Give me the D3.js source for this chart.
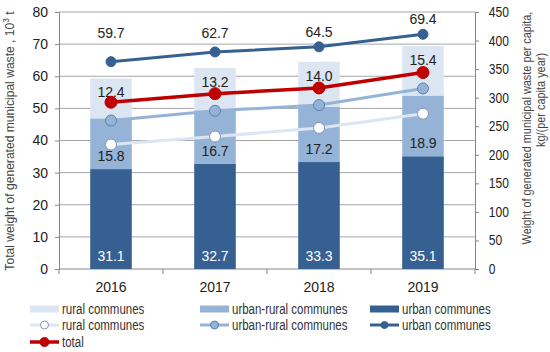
<!DOCTYPE html>
<html>
<head>
<meta charset="utf-8">
<script src="https://cdn.jsdelivr.net/npm/d3@7"></script>
<style>
  body { margin: 0; background: #fff; }
  svg text { font-family: "Liberation Sans", Arial, sans-serif; fill: #222; }
</style>
</head>
<body>
<svg></svg>
<script>
width = 550;
height = 352;

years = ['2016', '2017', '2018', '2019'];
// bars, 10^3 t
urbanT = [31.1, 32.7, 33.3, 35.1];
urbanRuralT = [15.8, 16.7, 17.2, 18.9];
ruralT = [12.4, 13.2, 14.0, 15.4];
totalT = [59.7, 62.7, 64.5, 69.4];
// lines, kg per capita
urbanPC = [363, 380, 389, 411];
urbanRuralPC = [260, 277, 287, 316];
ruralPC = [218, 232, 247, 272];
totalPC = [292, 307, 317, 344];
leftTicks = [0, 10, 20, 30, 40, 50, 60, 70, 80];
rightTicks = [0, 50, 100, 150, 200, 250, 300, 350, 400, 450];

cDark = '#376092';
cMid = '#95b3d7';
cLight = '#dce6f2';
cRed = '#c00000';
grid = '#a6a6a6';

svg = d3.select('svg')
  .attr('width', width)
  .attr('height', height);

x = d3.scaleBand().domain(years).range([59, 475]).paddingInner(0.6).paddingOuter(0.3);
yL = d3.scaleLinear().domain([0, 80]).range([269, 12]);
yR = d3.scaleLinear().domain([0, 450]).range([269, 12]);
cx = d => x(d) + x.bandwidth() / 2;

// gridlines
svg.append('g').selectAll('line')
  .data(leftTicks.slice(1))
  .enter().append('line')
  .attr('x1', 59).attr('x2', 475)
  .attr('y1', d => yL(d)).attr('y2', d => yL(d))
  .attr('stroke', grid).attr('stroke-width', 1);

// axes
axL = svg.append('g').attr('transform', 'translate(59,0)')
  .call(d3.axisLeft(yL).tickValues(leftTicks).tickSize(4).tickPadding(7));
axR = svg.append('g').attr('transform', 'translate(475,0)')
  .call(d3.axisRight(yR).tickValues(rightTicks).tickSize(4).tickPadding(12));
xStep = x.step();
axX = svg.append('g').attr('transform', 'translate(0,269)');
axX.append('line').attr('x1', 59).attr('x2', 475).attr('stroke', '#868686');
axX.selectAll('line.tk')
  .data(d3.range(5))
  .enter().append('line').attr('class', 'tk')
  .attr('x1', i => 59 + i * xStep).attr('x2', i => 59 + i * xStep)
  .attr('y1', 0).attr('y2', 5).attr('stroke', '#868686');
axX.selectAll('text')
  .data(years)
  .enter().append('text')
  .attr('x', d => cx(d)).attr('y', 23)
  .attr('text-anchor', 'middle')
  .style('font-size', '14px')
  .text(d => d);

[axL, axR].forEach(a => {
  a.select('.domain').attr('stroke', '#868686');
  a.selectAll('.tick line').attr('stroke', '#868686');
  a.selectAll('.tick text').style('font-size', '14px');
});
axR.selectAll('.tick text').attr('transform', 'scale(0.86,1)');

// stacked bars
stackData = years.map((y, i) => ({ year: y, urban: urbanT[i], urbanRural: urbanRuralT[i], rural: ruralT[i] }));
stack = d3.stack().keys(['urban', 'urbanRural', 'rural'])(stackData);
barColors = { urban: cDark, urbanRural: cMid, rural: cLight };
svg.append('g').selectAll('g')
  .data(stack)
  .enter().append('g')
  .attr('fill', s => barColors[s.key])
  .selectAll('rect')
  .data(s => s)
  .enter().append('rect')
  .attr('x', d => x(d.data.year))
  .attr('width', x.bandwidth())
  .attr('y', d => yL(d[1]))
  .attr('height', d => yL(d[0]) - yL(d[1]));

// segment labels
lbl = svg.append('g').style('font-size', '14px').attr('text-anchor', 'middle');
stack.forEach(s => {
  lbl.selectAll(null)
    .data(s)
    .enter().append('text')
    .attr('x', d => cx(d.data.year))
    .attr('y', d => s.key === 'rural' ? yL(d[1]) + 19 : yL(d[0]) - 8)
    .style('fill', s.key === 'urban' ? '#fff' : '#222')
    .text(d => d.data[s.key].toFixed(1));
});

// lines
lineSeries = [
  { vals: ruralPC, color: cLight, w: 3, r: 5.5, fill: '#fff', stroke: '#8497b0' },
  { vals: urbanRuralPC, color: cMid, w: 3, r: 5.5, fill: cMid, stroke: '#5b7fae' },
  { vals: urbanPC, color: cDark, w: 3, r: 5, fill: cDark, stroke: cDark },
  { vals: totalPC, color: cRed, w: 3.5, r: 6, fill: cRed, stroke: cRed }
];
line = d3.line().x((v, i) => cx(years[i])).y(v => yR(v));
lineSeries.forEach(s => {
  g = svg.append('g');
  g.append('path').attr('d', line(s.vals))
    .attr('fill', 'none').attr('stroke', s.color).attr('stroke-width', s.w);
  g.selectAll('circle')
    .data(s.vals)
    .enter().append('circle')
    .attr('cx', (v, i) => cx(years[i]))
    .attr('cy', v => yR(v))
    .attr('r', s.r)
    .attr('fill', s.fill).attr('stroke', s.stroke).attr('stroke-width', 1);
});

// total labels
svg.append('g').selectAll('text')
  .data(totalT)
  .enter().append('text')
  .attr('x', (v, i) => cx(years[i]))
  .attr('y', (v, i) => Math.min(33, yR(urbanPC[i]) - 15) + 5)
  .attr('text-anchor', 'middle')
  .style('font-size', '14px')
  .text(v => v.toFixed(1));

// axis titles (condensed)
svg.append('text')
  .attr('transform', 'translate(14,141) rotate(-90) scale(0.93,1)')
  .attr('text-anchor', 'middle')
  .style('font-size', '13px')
  .style('fill', '#444')
  .html('Total weight of generated municipal waste , 10<tspan dy="-5" font-size="9px">3</tspan><tspan dy="5"> t</tspan>');
svg.append('text')
  .attr('transform', 'translate(531,128) rotate(-90) scale(0.84,1)')
  .attr('text-anchor', 'middle')
  .style('font-size', '13px')
  .style('fill', '#444')
  .text('Weight of generated municipal waste per capita,');
svg.append('text')
  .attr('transform', 'translate(545,100) rotate(-90) scale(0.84,1)')
  .attr('text-anchor', 'middle')
  .style('font-size', '13px')
  .style('fill', '#444')
  .text('kg/(per capita year)');

// legend
legendItems = [
  { label: 'rural communes', type: 'bar', color: cLight, col: 0, row: 0 },
  { label: 'urban-rural communes', type: 'bar', color: cMid, col: 1, row: 0 },
  { label: 'urban communes', type: 'bar', color: cDark, col: 2, row: 0 },
  { label: 'rural communes', type: 'line', s: lineSeries[0], col: 0, row: 1 },
  { label: 'urban-rural communes', type: 'line', s: lineSeries[1], col: 1, row: 1 },
  { label: 'urban communes', type: 'line', s: lineSeries[2], col: 2, row: 1 },
  { label: 'total', type: 'line', s: lineSeries[3], col: 0, row: 2 }
];
colX = [30, 200, 370];
rowY = [309, 325, 342];
leg = svg.append('g');
legendItems.forEach(d => {
  gx = colX[d.col];
  gy = rowY[d.row];
  if (d.type === 'bar') {
    leg.append('rect').attr('x', gx).attr('y', gy - 3.5).attr('width', 29).attr('height', 7).attr('fill', d.color);
  } else {
    leg.append('line').attr('x1', gx).attr('x2', gx + 29).attr('y1', gy).attr('y2', gy)
      .attr('stroke', d.s.color).attr('stroke-width', d.s.w);
    leg.append('circle').attr('cx', gx + 14.5).attr('cy', gy).attr('r', d.s.r - 1.5)
      .attr('fill', d.s.fill).attr('stroke', d.s.stroke);
  }
  leg.append('text')
    .attr('transform', `translate(${gx + 32},${gy + 5}) scale(0.82,1)`)
    .style('font-size', '14px')
    .style('fill', '#333')
    .text(d.label);
});
</script>
</body>
</html>
